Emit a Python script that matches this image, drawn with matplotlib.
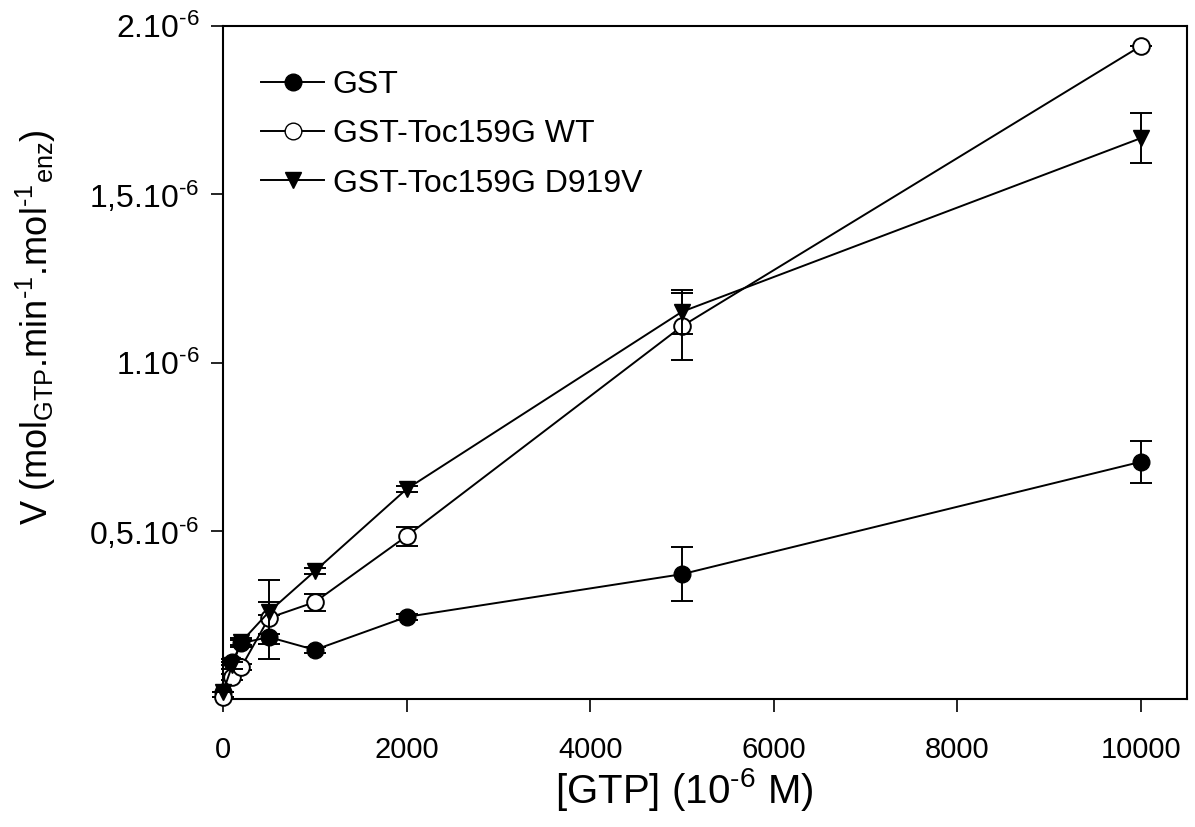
import matplotlib
matplotlib.use("Agg")
import matplotlib.pyplot as plt
from matplotlib.lines import Line2D

plt.rcParams['font.family'] = ['Liberation Sans', 'DejaVu Sans']
plt.rcParams['mathtext.fontset'] = 'custom'
plt.rcParams['mathtext.rm'] = 'Liberation Sans'
plt.rcParams['mathtext.it'] = 'Liberation Sans:italic'
plt.rcParams['mathtext.bf'] = 'Liberation Sans:bold'

HY = '\u2010'

# Data (GTP concentration in 10^-6 M, velocity)
gtp = [0, 100, 200, 500, 1000, 2000, 5000, 10000]

gst = [0.02e-6, 0.11e-6, 0.166e-6, 0.184e-6, 0.146e-6, 0.244e-6, 0.371e-6, 0.705e-6]
gst_err = [0.0, 0.01e-6, 0.01e-6, 0.065e-6, 0.01e-6, 0.01e-6, 0.080e-6, 0.062e-6]

wt = [0.005e-6, 0.065e-6, 0.095e-6, 0.241e-6, 0.288e-6, 0.484e-6, 1.108e-6, 1.941e-6]
wt_err = [0.0, 0.01e-6, 0.01e-6, 0.048e-6, 0.025e-6, 0.028e-6, 0.100e-6, 0.0]

d919v = [0.02e-6, 0.10e-6, 0.17e-6, 0.259e-6, 0.380e-6, 0.624e-6, 1.151e-6, 1.667e-6]
d919v_err = [0.0, 0.01e-6, 0.01e-6, 0.095e-6, 0.01e-6, 0.01e-6, 0.065e-6, 0.075e-6]

labels = ['GST', 'GST-Toc159G WT', 'GST-Toc159G D919V']

ytick_vals = [0.5e-6, 1e-6, 1.5e-6, 2e-6]
ytick_labels = ['0,5.10$^{%s6}$' % HY, '1.10$^{%s6}$' % HY, '1,5.10$^{%s6}$' % HY, '2.10$^{%s6}$' % HY]
xtick_vals = [0, 2000, 4000, 6000, 8000, 10000]

fig = plt.figure(figsize=(11.95, 8.27), dpi=100)
ax = fig.add_axes([223/1195, 1 - 699/827, (1187-223)/1195, (699-26)/827])

ms = 12
lw = 1.4
common = dict(color='black', lw=lw, elinewidth=lw, capsize=8, capthick=lw, ms=ms, clip_on=False)
ax.errorbar(gtp, gst, yerr=gst_err, fmt='-o', mfc='black', mec='black', zorder=3, **common)
ax.errorbar(gtp, wt, yerr=wt_err, fmt='-o', mfc='white', mec='black', mew=1.4, zorder=4, **common)
ax.errorbar(gtp, d919v, yerr=d919v_err, fmt='-v', mfc='black', mec='black', zorder=5, **common)

ax.set_xlim(0, 10500)
ax.set_ylim(0, 2e-6)
ax.set_xticks(xtick_vals)
ax.set_xticklabels([str(v) for v in xtick_vals], fontsize=21)
ax.set_yticks(ytick_vals)
ax.set_yticklabels(ytick_labels, fontsize=23)
ax.tick_params(axis='both', direction='out', length=9, width=1.2, top=False, right=False)
ax.tick_params(axis='x', pad=18)
ax.tick_params(axis='y', pad=8)
for s in ax.spines.values():
    s.set_linewidth(1.5)

ax.set_xlabel('[GTP] (10$^{%s6}$ M)' % HY, fontsize=29)
ax.xaxis.set_label_coords(0.479, -0.10)
ax.set_ylabel('V (mol$_{\\mathrm{GTP}}$.min$^{%s1}$.mol$^{%s1}$$_{\\mathrm{enz}}$)' % (HY, HY),
              fontsize=26)
ax.yaxis.set_label_coords(-0.171, 0.553)

handles = [
    Line2D([], [], color='black', lw=lw, marker='o', mfc='black', mec='black', ms=12),
    Line2D([], [], color='black', lw=lw, marker='o', mfc='white', mec='black', ms=12),
    Line2D([], [], color='black', lw=lw, marker='v', mfc='black', mec='black', ms=12),
]
ax.legend(handles, labels, loc='upper left', bbox_to_anchor=(0.01, 0.977), frameon=False,
          fontsize=23, handlelength=1.95, handletextpad=0.28, labelspacing=0.6)

fig.savefig('out.png', dpi=100)
